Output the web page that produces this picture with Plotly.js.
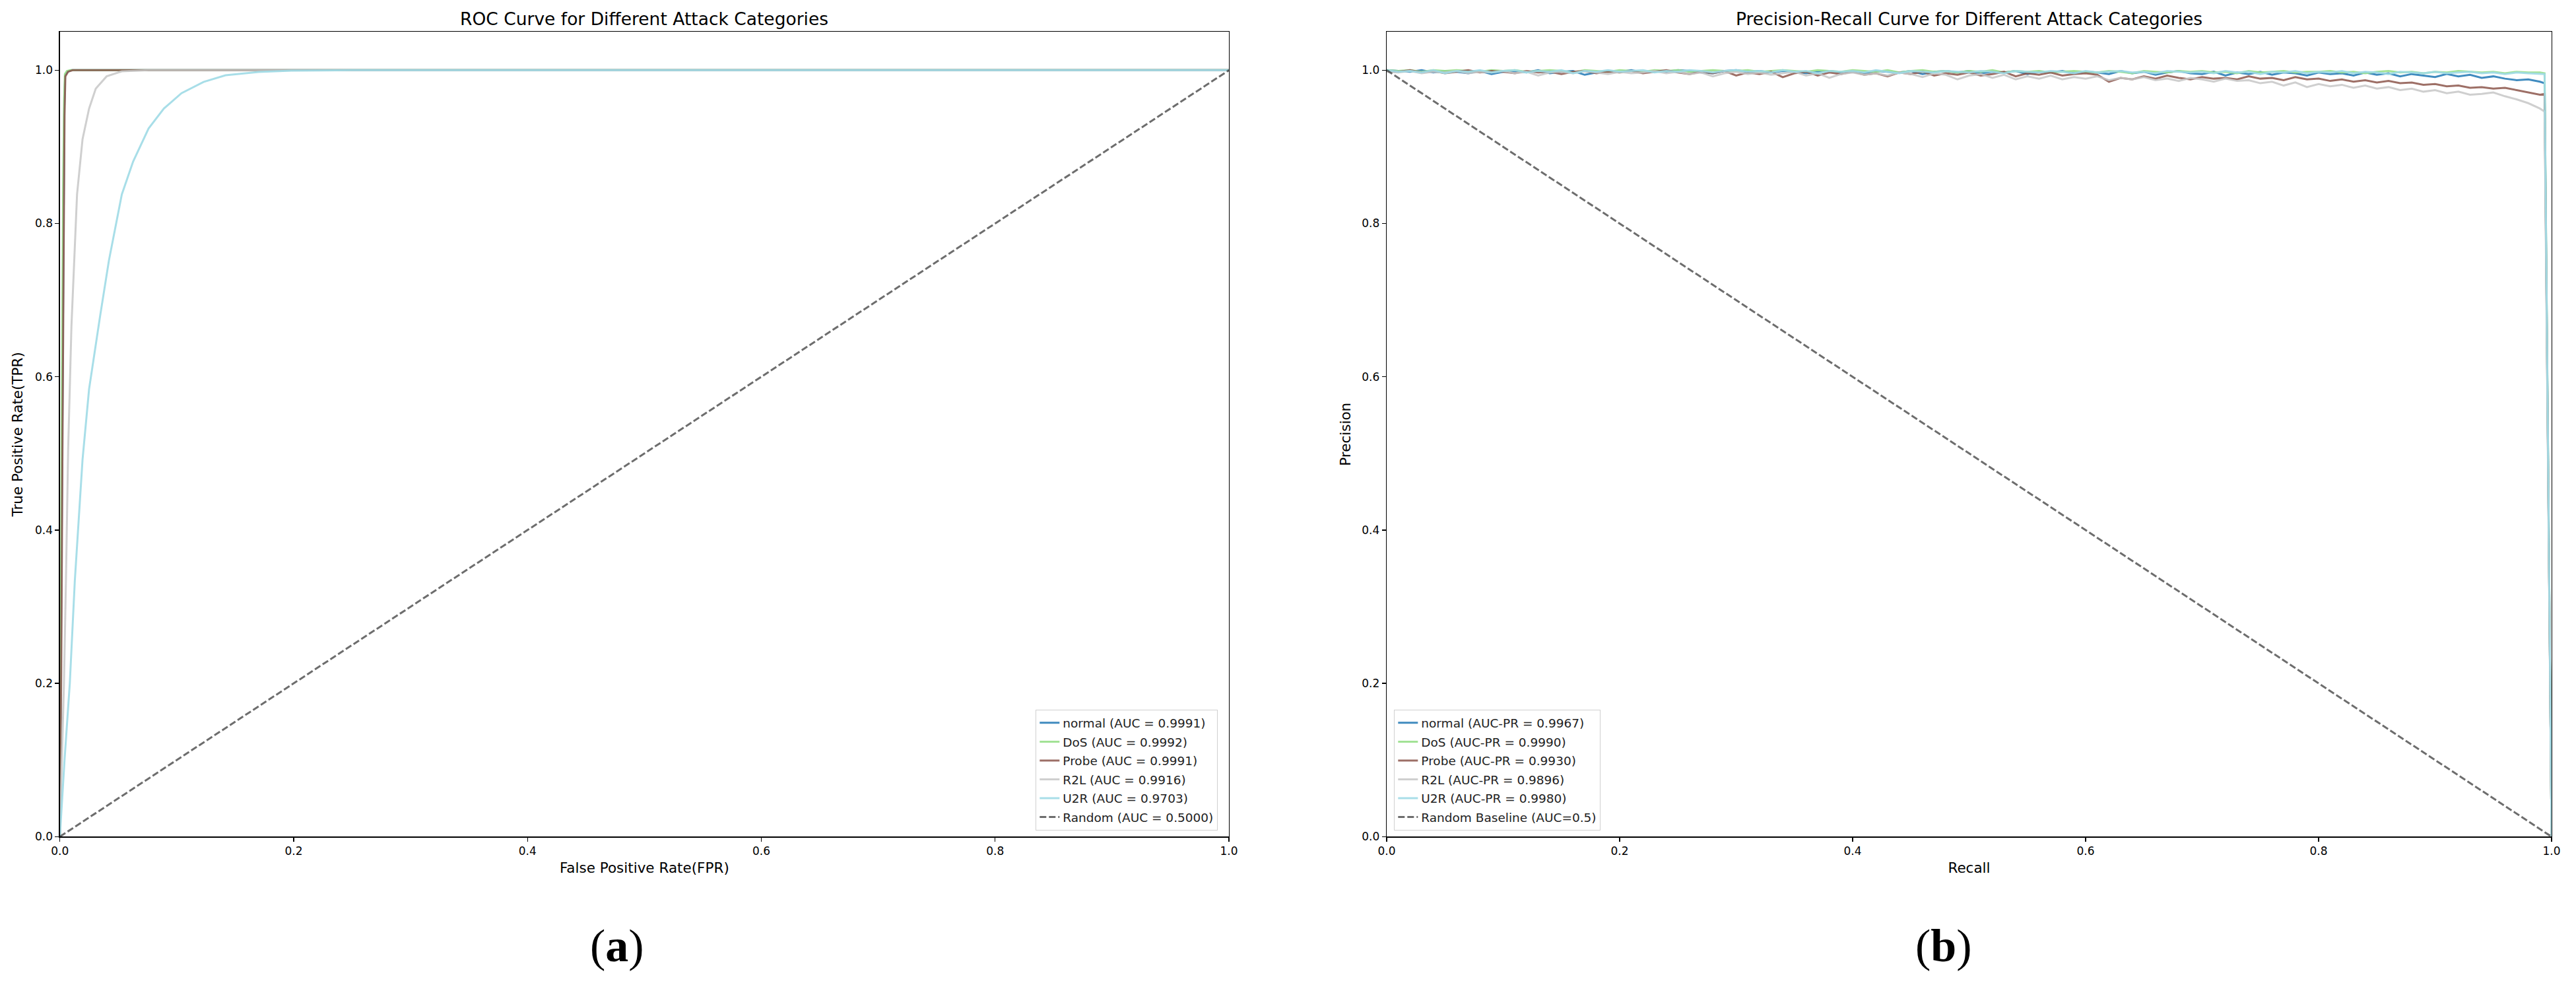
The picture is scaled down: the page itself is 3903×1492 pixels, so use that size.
<!DOCTYPE html>
<html>
<head>
<meta charset="utf-8">
<script src="https://cdn.plot.ly/plotly-3.0.1.min.js"></script>
<style>html,body{margin:0;padding:0;background:#fff;}#chart{width:3903px;height:1492px;}</style>
</head>
<body>
<div id="chart"></div>
<script>
// ---------------- DATA ----------------
const categories = ["normal", "DoS", "Probe", "R2L", "U2R"];
const rocAUC = ["0.9991", "0.9992", "0.9991", "0.9916", "0.9703"];
const prAUC = ["0.9967", "0.9990", "0.9930", "0.9896", "0.9980"];
const tickVals = [0, 0.2, 0.4, 0.6, 0.8, 1.0];
const tickText = ["0.0", "0.2", "0.4", "0.6", "0.8", "1.0"];

// ROC curves (FPR, TPR)
const normalFpr = [0, 0.001, 0.002, 0.003, 0.0038, 0.0045, 0.0065, 0.01, 0.1, 1];
const normalTpr = [0, 0.25, 0.55, 0.82, 0.95, 0.993, 0.998, 1, 1, 1];
const dosFpr = [0, 0.0008, 0.0018, 0.0028, 0.0036, 0.0043, 0.006, 0.009, 1];
const dosTpr = [0, 0.3, 0.6, 0.85, 0.96, 0.995, 0.999, 1, 1];
const probeFpr = [0, 0.0012, 0.0022, 0.0032, 0.004, 0.0047, 0.007, 0.011, 1];
const probeTpr = [0, 0.22, 0.5, 0.8, 0.94, 0.992, 0.998, 1, 1];
const r2lFpr = [0, 0.0015, 0.0035, 0.0052, 0.0071, 0.0099, 0.0147, 0.0194, 0.025, 0.0307, 0.040, 0.053, 0.076, 1];
const r2lTpr = [0, 0.08, 0.2, 0.334, 0.506, 0.666, 0.838, 0.910, 0.950, 0.976, 0.992, 0.9985, 1, 1];
const u2rFpr = [0, 0.004, 0.0085, 0.0128, 0.0194, 0.025, 0.0344, 0.042, 0.053, 0.0627, 0.0759, 0.089, 0.104, 0.1229, 0.1417, 0.170, 0.198, 0.25, 1];
const u2rTpr = [0, 0.1, 0.2, 0.334, 0.492, 0.584, 0.679, 0.752, 0.838, 0.881, 0.924, 0.950, 0.970, 0.9847, 0.9934, 0.9977, 0.9995, 1, 1];
const randomRocX = [0, 1];
const randomRocY = [0, 1];

// Precision-Recall curves
const recall = [0, 0.01, 0.02, 0.03, 0.04, 0.05, 0.06, 0.07, 0.08, 0.09,
  0.10, 0.11, 0.12, 0.13, 0.14, 0.15, 0.16, 0.17, 0.18, 0.19,
  0.20, 0.21, 0.22, 0.23, 0.24, 0.25, 0.26, 0.27, 0.28, 0.29,
  0.30, 0.31, 0.32, 0.33, 0.34, 0.35, 0.36, 0.37, 0.38, 0.39,
  0.40, 0.41, 0.42, 0.43, 0.44, 0.45, 0.46, 0.47, 0.48, 0.49,
  0.50, 0.51, 0.52, 0.53, 0.54, 0.55, 0.56, 0.57, 0.58, 0.59,
  0.60, 0.61, 0.62, 0.63, 0.64, 0.65, 0.66, 0.67, 0.68, 0.69,
  0.70, 0.71, 0.72, 0.73, 0.74, 0.75, 0.76, 0.77, 0.78, 0.79,
  0.80, 0.81, 0.82, 0.83, 0.84, 0.85, 0.86, 0.87, 0.88, 0.89,
  0.90, 0.91, 0.92, 0.93, 0.94, 0.95, 0.96, 0.97, 0.98, 0.99,
  0.994, 1.0];
const normalPrec = [1.000, 0.999, 0.998, 1.000, 0.997, 0.999, 0.998, 0.996, 0.999, 0.995,
  0.998, 0.999, 0.997, 1.000, 0.996, 0.998, 0.999, 0.994, 0.997, 0.999,
  0.998, 1.000, 0.997, 0.999, 0.998, 1.000, 0.999, 0.997, 0.996, 0.999,
  1.000, 0.998, 0.999, 0.997, 0.999, 0.998, 0.996, 0.998, 0.999, 0.997,
  0.998, 0.996, 0.999, 0.998, 0.997, 0.999, 0.995, 0.998, 0.999, 0.997,
  0.999, 0.996, 0.998, 0.997, 0.999, 0.995, 0.998, 0.997, 0.999, 0.996,
  0.998, 0.997, 0.995, 0.999, 0.996, 0.998, 0.994, 0.997, 0.999, 0.996,
  0.995, 0.998, 0.993, 0.997, 0.995, 0.998, 0.994, 0.997, 0.996, 0.993,
  0.997, 0.995, 0.996, 0.993, 0.997, 0.994, 0.996, 0.992, 0.995, 0.993,
  0.991, 0.995, 0.992, 0.994, 0.990, 0.992, 0.989, 0.987, 0.988, 0.985,
  0.983, 0.0];
const dosPrec = [1.000, 0.999, 1.000, 0.998, 1.000, 0.999, 1.000, 0.999, 0.998, 1.000,
  0.999, 1.000, 0.998, 0.999, 1.000, 0.999, 0.997, 1.000, 0.999, 0.998,
  1.000, 0.999, 0.998, 1.000, 0.999, 1.000, 0.998, 0.999, 1.000, 0.999,
  0.999, 1.000, 0.998, 0.999, 1.000, 0.999, 0.998, 1.000, 0.999, 0.998,
  1.000, 0.999, 0.998, 1.000, 0.997, 0.999, 1.000, 0.998, 0.999, 0.997,
  0.999, 0.998, 1.000, 0.997, 0.999, 0.998, 0.999, 0.997, 0.998, 0.999,
  0.998, 0.997, 0.999, 0.998, 0.996, 0.999, 0.998, 0.997, 0.999, 0.998,
  0.999, 0.997, 0.998, 0.996, 0.999, 0.997, 0.998, 0.999, 0.997, 0.998,
  0.998, 0.999, 0.997, 0.998, 0.996, 0.998, 0.999, 0.997, 0.998, 0.996,
  0.998, 0.997, 0.999, 0.998, 0.997, 0.998, 0.996, 0.998, 0.997, 0.997,
  0.996, 0.0];
const probePrec = [0.999, 0.998, 1.000, 0.997, 0.999, 0.996, 0.998, 1.000, 0.997, 0.999,
  0.998, 0.996, 0.999, 0.997, 0.998, 0.995, 0.998, 0.999, 0.996, 0.998,
  0.997, 0.999, 0.996, 0.998, 1.000, 0.997, 0.995, 0.998, 0.996, 0.999,
  0.993, 0.997, 0.995, 0.998, 0.991, 0.996, 0.998, 0.993, 0.997, 0.995,
  0.998, 0.994, 0.996, 0.992, 0.997, 0.995, 0.998, 0.993, 0.996, 0.994,
  0.997, 0.993, 0.995, 0.998, 0.992, 0.996, 0.994, 0.997, 0.993, 0.995,
  0.996, 0.994, 0.985, 0.990, 0.988, 0.992, 0.989, 0.993, 0.990, 0.988,
  0.991, 0.989, 0.990, 0.988, 0.992, 0.989, 0.990, 0.987, 0.991, 0.988,
  0.989, 0.986, 0.988, 0.985, 0.987, 0.984, 0.986, 0.983, 0.984, 0.981,
  0.982, 0.979, 0.980, 0.977, 0.978, 0.976, 0.977, 0.974, 0.971, 0.968,
  0.969, 0.0];
const r2lPrec = [0.998, 0.997, 0.999, 0.996, 0.998, 0.997, 0.999, 0.996, 0.998, 0.997,
  0.999, 0.996, 0.998, 0.993, 0.997, 0.998, 0.996, 0.999, 0.997, 0.995,
  0.998, 0.996, 0.997, 0.999, 0.996, 0.998, 0.995, 0.997, 0.992, 0.996,
  0.998, 0.995, 0.997, 0.994, 0.996, 0.998, 0.993, 0.996, 0.990, 0.995,
  0.997, 0.994, 0.996, 0.993, 0.997, 0.995, 0.991, 0.996, 0.994, 0.988,
  0.993, 0.995, 0.990, 0.994, 0.988, 0.992, 0.989, 0.993, 0.988, 0.991,
  0.989, 0.992, 0.987, 0.990, 0.988, 0.991, 0.987, 0.989, 0.986, 0.990,
  0.988, 0.985, 0.989, 0.986, 0.987, 0.983, 0.985, 0.980, 0.984, 0.978,
  0.982, 0.979, 0.981, 0.977, 0.980, 0.976, 0.978, 0.974, 0.976, 0.972,
  0.974, 0.970, 0.972, 0.968, 0.969, 0.971, 0.966, 0.962, 0.957, 0.950,
  0.946, 0.0];
const u2rPrec = [1.000, 0.998, 0.999, 0.997, 1.000, 0.996, 0.999, 0.998, 1.000, 0.997,
  0.999, 1.000, 0.997, 0.999, 0.998, 1.000, 0.996, 0.999, 0.998, 1.000,
  0.998, 0.999, 1.000, 0.997, 0.999, 0.998, 1.000, 0.999, 0.997, 0.999,
  1.000, 0.998, 0.999, 0.997, 1.000, 0.998, 0.999, 0.996, 0.999, 0.998,
  0.999, 0.997, 1.000, 0.998, 0.996, 0.999, 0.998, 0.997, 0.999, 0.998,
  0.997, 0.999, 0.998, 0.996, 0.999, 0.998, 0.997, 0.999, 0.998, 0.996,
  0.999, 0.997, 0.998, 0.999, 0.997, 0.998, 0.996, 0.999, 0.998, 0.997,
  0.998, 0.996, 0.999, 0.997, 0.998, 0.995, 0.998, 0.997, 0.999, 0.996,
  0.998, 0.997, 0.999, 0.996, 0.998, 0.997, 0.995, 0.998, 0.997, 0.996,
  0.998, 0.996, 0.997, 0.998, 0.996, 0.997, 0.995, 0.997, 0.996, 0.995,
  0.995, 0.0];
const randomPrX = [0, 1];
const randomPrY = [1, 0];

// ---------------- STYLE ----------------
const colors = ["rgba(31,119,180,0.85)", "rgba(152,223,138,0.9)", "rgba(140,86,75,0.85)", "rgba(199,199,199,0.85)", "rgba(158,218,229,0.9)"];
const LW = 3;
const font = "DejaVu Sans";

const rocX = [normalFpr, dosFpr, probeFpr, r2lFpr, u2rFpr];
const rocY = [normalTpr, dosTpr, probeTpr, r2lTpr, u2rTpr];
const prY = [normalPrec, dosPrec, probePrec, r2lPrec, u2rPrec];

const traces = [];
categories.forEach((c, i) => {
  traces.push({
    x: rocX[i], y: rocY[i], type: "scatter", mode: "lines",
    name: c + " (AUC = " + rocAUC[i] + ")",
    line: {color: colors[i], width: LW},
    xaxis: "x", yaxis: "y", legend: "legend", legendgroup: "a" + i
  });
});
traces.push({
  x: randomRocX, y: randomRocY, type: "scatter", mode: "lines",
  name: "Random (AUC = 0.5000)",
  line: {color: "rgba(60,60,60,0.75)", width: LW, dash: "10px,4px"},
  xaxis: "x", yaxis: "y", legend: "legend", legendgroup: "a5"
});
categories.forEach((c, i) => {
  traces.push({
    x: recall, y: prY[i], type: "scatter", mode: "lines",
    name: c + " (AUC-PR = " + prAUC[i] + ")",
    line: {color: colors[i], width: LW},
    xaxis: "x2", yaxis: "y2", legend: "legend2", legendgroup: "b" + i
  });
});
traces.push({
  x: randomPrX, y: randomPrY, type: "scatter", mode: "lines",
  name: "Random Baseline (AUC=0.5)",
  line: {color: "rgba(60,60,60,0.75)", width: LW, dash: "10px,4px"},
  xaxis: "x2", yaxis: "y2", legend: "legend2", legendgroup: "b5"
});

const W = 3903, H = 1492;
const yDom = [1 - 1267.3 / H, 1 - 48.3 / H];
const axisCommon = {
  showline: true, mirror: true, linecolor: "black", linewidth: 1.3,
  ticks: "outside", ticklen: 6, tickwidth: 1.3, tickcolor: "black",
  showgrid: false, zeroline: false,
  tickfont: {family: font, size: 17, color: "black"},
  tickvals: tickVals, ticktext: tickText
};
const legendCommon = {
  bgcolor: "white", bordercolor: "#d0d0d0", borderwidth: 1.3,
  font: {family: font, size: 18.5, color: "#222"},
  tracegroupgap: 1.5, yanchor: "bottom", y: 1 - 1258 / H
};

const layout = {
  width: W, height: H,
  margin: {l: 0, r: 0, t: 0, b: 0},
  paper_bgcolor: "white", plot_bgcolor: "white",
  font: {family: font, color: "black"},
  showlegend: true,
  xaxis: Object.assign({}, axisCommon, {
    domain: [90.7 / W, 1862 / W], range: [0, 1], anchor: "y",
    title: {text: "False Positive Rate(FPR)", font: {family: font, size: 21.5, color: "black"}, standoff: 9}
  }),
  yaxis: Object.assign({}, axisCommon, {
    domain: yDom, range: [0, 1.05], anchor: "x",
    title: {text: "True Positive Rate(TPR)", font: {family: font, size: 21.5, color: "black"}, standoff: 12}
  }),
  xaxis2: Object.assign({}, axisCommon, {
    domain: [2101 / W, 3866 / W], range: [0, 1], anchor: "y2",
    title: {text: "Recall", font: {family: font, size: 21.5, color: "black"}, standoff: 9}
  }),
  yaxis2: Object.assign({}, axisCommon, {
    domain: yDom, range: [0, 1.05], anchor: "x2",
    title: {text: "Precision", font: {family: font, size: 21.5, color: "black"}, standoff: 10}
  }),
  legend: Object.assign({}, legendCommon, {xanchor: "right", x: 1845 / W}),
  legend2: Object.assign({}, legendCommon, {xanchor: "left", x: 2112 / W}),
  annotations: [
    {text: "ROC Curve for Different Attack Categories", xref: "paper", yref: "paper",
     x: (90.7 + 1862) / 2 / W, y: 1 - 28 / H, xanchor: "center", yanchor: "middle", showarrow: false,
     font: {family: font, size: 26.5, color: "black"}},
    {text: "Precision-Recall Curve for Different Attack Categories", xref: "paper", yref: "paper",
     x: (2101 + 3866) / 2 / W, y: 1 - 28 / H, xanchor: "center", yanchor: "middle", showarrow: false,
     font: {family: font, size: 26.5, color: "black"}},
    {text: "(<b>a</b>)", xref: "paper", yref: "paper", x: 935 / W, y: 1 - 1432 / H,
     xanchor: "center", yanchor: "middle", showarrow: false,
     font: {family: "Liberation Serif", size: 70, color: "black"}},
    {text: "(<b>b</b>)", xref: "paper", yref: "paper", x: 2945 / W, y: 1 - 1432 / H,
     xanchor: "center", yanchor: "middle", showarrow: false,
     font: {family: "Liberation Serif", size: 70, color: "black"}}
  ]
};

Plotly.newPlot("chart", traces, layout, {displayModeBar: false, staticPlot: true});
</script>
</body>
</html>
